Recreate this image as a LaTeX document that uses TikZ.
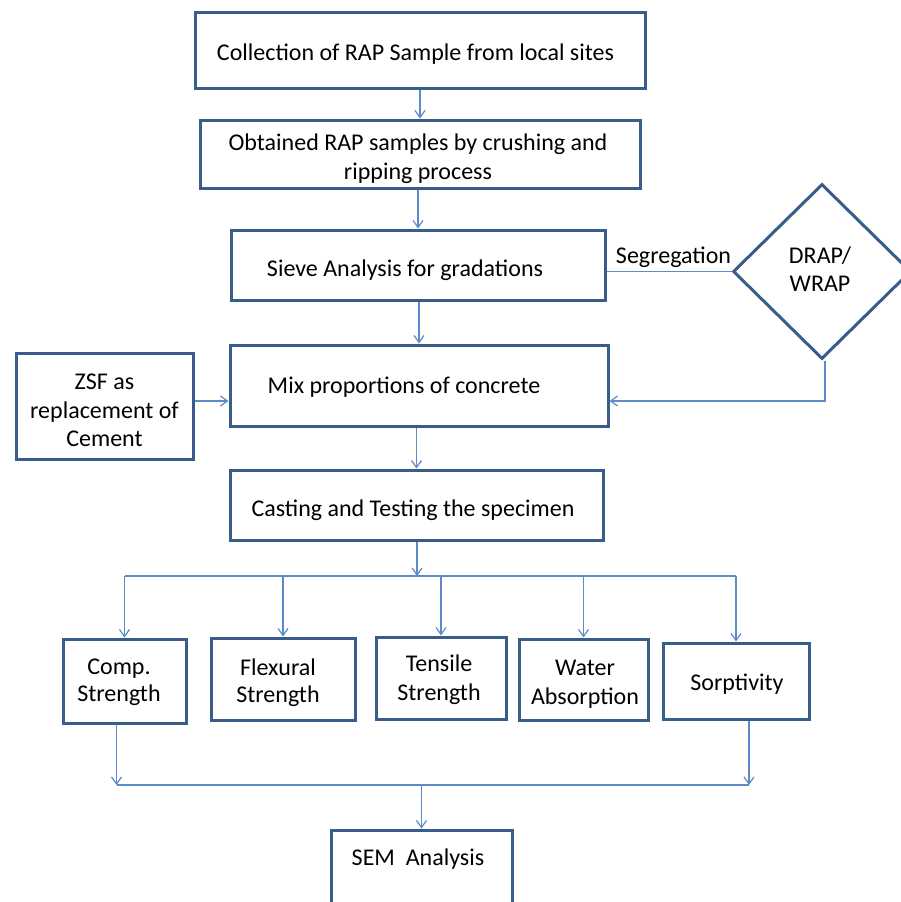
\documentclass[tikz,border=0pt]{standalone}
\usepackage{fontspec}
\setmainfont{Carlito}
\usetikzlibrary{arrows.meta,shapes.geometric}
\definecolor{boxc}{HTML}{385D8A}
\definecolor{linec}{HTML}{5B8BC9}
\begin{document}
\begin{tikzpicture}[x=1pt,y=-1pt,
 box/.style={draw=boxc,line width=3pt,fill=white,inner sep=0pt},
 lbl/.style={inner sep=0pt,align=center,font=\fontsize{24}{29}\selectfont},
 conn/.style={draw=linec,line width=1.8pt},
 arr/.style={conn,-{Straight Barb[length=7pt,width=10pt,line width=1.2pt]}}]
\useasboundingbox[fill=white] (0,0) rectangle (900,902);
% boxes
\node[box,minimum width=450pt,minimum height=76pt] (b1) at (420,50) {};
\node[box,minimum width=440pt,minimum height=68pt] (b2) at (420,154) {};
\node[box,minimum width=374pt,minimum height=70pt] (b3) at (418,265) {};
\node[box,shape=diamond,minimum width=178pt,minimum height=175pt] (dia) at (822,271.5) {};
\node[box,minimum width=378pt,minimum height=81pt] (b4) at (419,385.5) {};
\node[box,minimum width=177pt,minimum height=106pt] (zsf) at (104.5,406) {};
\node[box,minimum width=373pt,minimum height=70pt] (b5) at (416.5,505) {};
\node[box,minimum width=123pt,minimum height=84pt] (comp) at (124.5,681) {};
\node[box,minimum width=144pt,minimum height=82pt] (flex) at (283,679) {};
\node[box,minimum width=130pt,minimum height=82pt] (tens) at (441,678) {};
\node[box,minimum width=129pt,minimum height=81pt] (water) at (583.5,679.5) {};
\node[box,minimum width=146pt,minimum height=76pt] (sorp) at (736,681) {};
\node[box,minimum width=181pt,minimum height=80pt] (sem) at (421.5,870) {};
% texts
\node[lbl] (t1) at (415.5,54) {Collection of RAP Sample from local sites};
\node[lbl] (t2) at (418,158.5) {Obtained RAP samples by crushing and\\ripping process};
\node[lbl] (t3) at (405,270) {Sieve Analysis for gradations};
\node[lbl,font=\fontsize{24}{28}\selectfont] (td) at (820,269.5) {DRAP/\\WRAP};
\node[lbl] (t4) at (404,387) {Mix proportions of concrete};
\node[lbl,font=\fontsize{24}{28.5}\selectfont] (tz) at (104.5,410.5) {ZSF as\\replacement of\\Cement};
\node[lbl] (t5) at (413,510) {Casting and Testing the specimen};
\node[lbl,font=\fontsize{24}{27.5}\selectfont] (tc) at (119,682.5) {Comp.\\Strength};
\node[lbl,font=\fontsize{24}{27.5}\selectfont] (tf) at (278,682.5) {Flexural\\Strength};
\node[lbl,font=\fontsize{24}{29}\selectfont] (tt) at (439,680) {Tensile\\Strength};
\node[lbl,font=\fontsize{24}{29}\selectfont] (tw) at (585,684.5) {Water\\Absorption};
\node[lbl] (ts) at (737,684) {Sorptivity};
\node[lbl] (t6) at (418,859) {SEM\ \ Analysis};
\node[lbl] (seg) at (673.5,257) {Segregation};
% coordinates
\coordinate (k) at (825,401);
\coordinate (bus) at (417,576);
\coordinate (bus2) at (422,785);
\coordinate (cl) at ([xshift=-8pt]comp.south);
\coordinate (sr) at ([xshift=13pt]sorp.south);
% connectors
\draw[arr] (b2.north |- b1.south) -- (b2.north);
\draw[arr] (b3.north |- b2.south) -- (b3.north);
\draw[arr] (b4.north |- b3.south) -- (b4.north);
\draw[conn] (b3.east |- dia.west) -- (dia.west);
\draw[arr] ([xshift=3pt]dia.south) -- (k) -- (k -| b4.east);
\draw[arr] (zsf.east |- k) -- (b4.west |- k);
\draw[arr] (b5.north |- b4.south) -- (b5.north);
\draw[arr] (bus |- b5.south) -- (bus);
\draw[conn] (comp.north |- bus) -- (sorp.north |- bus);
\foreach \n in {comp,flex,tens,water,sorp}{\draw[arr] (\n.north |- bus) -- (\n.north);}
\draw[arr] (cl) -- (cl |- bus2);
\draw[arr] (sr) -- (sr |- bus2);
\draw[conn] (cl |- bus2) -- (sr |- bus2);
\draw[arr] (sem.north |- bus2) -- (sem.north);
\end{tikzpicture}
\end{document}
